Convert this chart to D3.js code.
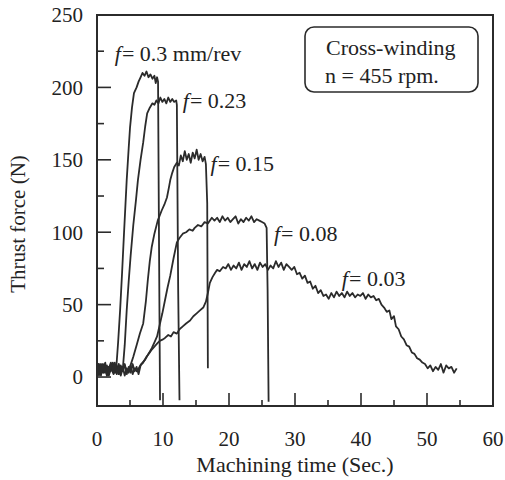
<!DOCTYPE html>
<html>
<head>
<meta charset="utf-8">
<script src="https://cdn.jsdelivr.net/npm/d3@7"></script>
<style>
  body { margin: 0; background: #fff; }
  text { font-family: "Liberation Serif", "DejaVu Serif", serif; fill: #222; }
</style>
</head>
<body>
<div id="chart"></div>
<script>
// Thrust force traces (time in s, force in N)
const f030 = [[0,5],[0.25,9],[0.5,2],[0.75,8],[1,3],[1.25,10],[1.5,1],[1.75,7],[2,4],[2.25,9],[2.5,2],[2.75,6],[2.9,5],
    [3.2,24],[3.5,46],[3.8,72],[4.1,100],[4.5,136],[4.8,158],[5.0,172],[5.3,186],[5.6,196],[6.0,200],[6.3,204],[6.6,207],
    [6.9,210],[7.2,208],[7.5,211],[7.8,207],[8.1,209],[8.4,206],[8.7,208],[8.9,203],[9.1,207],[9.25,204],[9.4,90],[9.55,-16]];

const f023 = [[0,6],[0.3,1],[0.6,8],[0.9,3],[1.2,9],[1.5,2],[1.8,7],[2.1,4],[2.4,10],[2.7,3],[3.0,8],[3.3,2],[3.6,6],[3.9,5],
    [4.2,22],[4.5,46],[4.8,66],[5.1,84],[5.5,105],[5.9,122],[6.2,136],[6.6,150],[7.0,162],[7.3,173],[7.6,182],[8.0,186],
    [8.4,189],[8.7,188],[9.0,191],[9.3,189],[9.6,193],[9.9,190],[10.2,192],[10.5,189],[10.8,193],[11.1,190],[11.4,192],
    [11.7,190],[12.0,191],[12.1,188],[12.3,60],[12.5,-16]];

const f015 = [[0,4],[0.3,9],[0.6,2],[0.9,7],[1.2,3],[1.5,8],[1.8,1],[2.1,6],[2.4,9],[2.7,3],[3.0,7],[3.3,2],[3.6,8],[3.9,4],
    [4.2,9],[4.5,3],[4.8,6],[5.0,7],[5.5,14],[6.0,22],[6.5,30],[7.0,37],[7.4,52],[7.7,67],[8.0,80],[8.3,90],[8.7,99],
    [9.2,108],[9.8,115],[10.2,119],[10.6,124],[10.9,131],[11.1,136],[11.4,141],[11.7,145],[12.1,148],[12.4,146],[12.7,153],
    [13.0,149],[13.3,156],[13.6,150],[13.9,154],[14.2,148],[14.5,155],[14.8,151],[15.1,157],[15.4,150],[15.7,154],
    [16.0,149],[16.3,152],[16.5,147],[16.7,120],[16.8,6]];

const f008 = [[0,7],[0.3,2],[0.6,9],[0.9,4],[1.2,8],[1.5,1],[1.8,6],[2.1,10],[2.4,3],[2.7,7],[3.0,2],[3.3,9],[3.6,4],[3.9,7],
    [4.2,1],[4.5,6],[4.8,3],[5.1,8],[5.4,2],[5.7,6],[6.0,4],[6.2,5],[6.7,9],[7.3,12],[7.8,16],[8.3,20],[8.7,24],[9.1,28],
    [9.5,36],[9.9,44],[10.3,53],[10.7,62],[11.1,70],[11.6,82],[12.1,93],[12.5,96],[13.0,99],[13.5,100],[14.0,102],[14.5,101],
    [14.8,103],[15.3,105],[15.8,104],[16.3,107],[16.8,106],[17.4,110],[17.8,108],[18.2,110],[18.6,107],[19.0,111],[19.4,108],
    [19.8,110],[20.2,107],[20.6,109],[21.0,111],[21.4,106],[21.8,109],[22.2,107],[22.6,110],[23.0,108],[23.4,111],[23.8,107],
    [24.2,109],[24.6,108],[25.0,107],[25.4,106],[25.7,103],[25.85,60],[26.0,-17]];

const f003 = [[0,3],[0.3,8],[0.6,1],[0.9,9],[1.2,4],[1.5,7],[1.8,2],[2.1,8],[2.4,5],[2.7,10],[3.0,3],[3.3,7],[3.6,1],[3.9,6],
    [4.2,8],[4.5,2],[4.8,7],[5.1,3],[5.4,9],[5.7,4],[6.0,7],[6.3,2],[6.6,8],[7.0,10],[7.5,14],[8.0,17],[8.3,19],[8.7,21],
    [9.1,23],[9.5,25],[10.0,26],[10.3,27],[10.8,29],[11.2,28],[11.6,31],[12.1,30],[12.5,33],[13.0,35],[13.5,37],[14.1,39],
    [14.6,42],[15.1,44],[15.6,46],[16.1,48],[16.5,52],[16.8,58],[17.1,65],[17.5,69],[17.9,72],[18.2,74],[18.6,73],[19.1,76],
    [19.5,75],[19.9,78],[20.3,74],[20.7,77],[21.1,75],[21.5,79],[21.9,74],[22.3,78],[22.7,76],[23.1,80],[23.5,75],[23.9,78],
    [24.3,74],[24.7,79],[25.1,76],[25.5,78],[25.9,74],[26.3,77],[26.7,75],[27.1,80],[27.5,76],[27.9,79],[28.3,74],[28.7,78],
    [29.1,76],[29.5,74],[29.9,76],[30.3,71],[30.7,72],[31.1,68],[31.5,70],[31.9,65],[32.3,66],[32.7,61],[33.1,63],[33.5,58],
    [33.9,60],[34.3,56],[34.7,57],[35.1,54],[35.5,58],[35.9,55],[36.3,59],[36.7,56],[37.1,58],[37.5,55],[37.9,59],[38.3,56],
    [38.7,58],[39.1,55],[39.5,57],[39.9,56],[40.3,58],[40.7,54],[41.1,57],[41.5,55],[41.9,56],[42.3,53],[42.7,54],[43.1,50],
    [43.5,48],[43.9,45],[44.3,46],[44.6,40],[45.0,42],[45.3,35],[45.7,33],[46.1,28],[46.5,26],[46.9,22],[47.3,21],[47.7,17],
    [48.1,16],[48.5,13],[48.9,12],[49.3,10],[49.7,9],[50.1,6],[50.5,8],[50.9,4],[51.3,7],[51.7,5],[52.1,9],[52.5,3],[52.9,8],
    [53.3,6],[53.7,7],[54.1,3],[54.5,6]];

const xTicks = [0, 10, 20, 30, 40, 50, 60];
const yTicks = [0, 50, 100, 150, 200, 250];

// curve labels: feed value, and where the label sits (time, force)
const labelText = ["= 0.3 mm/rev", "= 0.23", "= 0.15", "= 0.08", "= 0.03"];
const labelAt = [[2.7, 218], [13.0, 186], [17.2, 142], [26.8, 94], [37.1, 63]];

const width = 505, height = 480;
const margin = {left: 97, right: 12, top: 15, bottom: 74};

const x = d3.scaleLinear().domain([0, 60]).range([margin.left, width - margin.right]);
const y = d3.scaleLinear().domain([-20, 250]).range([height - margin.bottom, margin.top]);

const svg = d3.select("#chart").append("svg")
    .attr("width", width)
    .attr("height", height);

const ink = "#2b2b2b";

// curves
const line = d3.line().x(d => x(d[0])).y(d => y(d[1]));
[f030, f023, f015, f008, f003].forEach(series => {
    svg.append("path")
        .datum(series)
        .attr("d", line)
        .style("fill", "none")
        .style("stroke", ink)
        .style("stroke-width", 1.8)
        .style("stroke-linejoin", "round");
});

// frame
svg.append("rect")
    .attr("x", x(0)).attr("y", y(250))
    .attr("width", x(60) - x(0)).attr("height", y(-20) - y(250))
    .style("fill", "none").style("stroke", ink).style("stroke-width", 2);

// inward ticks on the bottom and left
const xMinor = d3.range(5, 60, 10);
const yMinor = d3.range(25, 250, 50);
svg.append("g").selectAll("line")
    .data(xTicks.slice(1, -1).map(v => [v, 13]).concat(xMinor.map(v => [v, 6])))
    .enter().append("line")
    .attr("x1", d => x(d[0])).attr("x2", d => x(d[0]))
    .attr("y1", y(-20)).attr("y2", d => y(-20) - d[1])
    .style("stroke", ink).style("stroke-width", 1.6);

svg.append("g").selectAll("line")
    .data(yTicks.slice(0, -1).map(v => [v, 14]).concat(yMinor.map(v => [v, 7])))
    .enter().append("line")
    .attr("x1", x(0)).attr("x2", d => x(0) + d[1])
    .attr("y1", d => y(d[0])).attr("y2", d => y(d[0]))
    .style("stroke", ink).style("stroke-width", 1.6);

// tick labels
svg.append("g").selectAll("text")
    .data(xTicks)
    .enter().append("text")
    .attr("x", d => x(d))
    .attr("y", 446)
    .attr("text-anchor", "middle")
    .style("font-size", "21px")
    .text(d => d);

svg.append("g").selectAll("text")
    .data(yTicks)
    .enter().append("text")
    .attr("x", 83)
    .attr("y", d => y(d))
    .attr("dy", "0.35em")
    .attr("text-anchor", "end")
    .style("font-size", "21px")
    .text(d => d);

// axis titles
svg.append("text")
    .attr("x", x(30))
    .attr("y", 472)
    .attr("text-anchor", "middle")
    .style("font-size", "22px")
    .text("Machining time (Sec.)");

svg.append("text")
    .attr("transform", "translate(25,224) rotate(-90)")
    .attr("text-anchor", "middle")
    .style("font-size", "21px")
    .text("Thrust force (N)");

// curve labels
labelText.forEach((t, i) => {
    const lab = svg.append("text")
        .attr("x", x(labelAt[i][0]))
        .attr("y", y(labelAt[i][1]))
        .style("font-size", "22px");
    lab.append("tspan").style("font-style", "italic").text("f");
    lab.append("tspan").attr("dx", 1).text(t);
});

// condition box
svg.append("rect")
    .attr("x", 305).attr("y", 27)
    .attr("width", 173).attr("height", 65)
    .attr("rx", 9)
    .style("fill", "#fff").style("stroke", ink).style("stroke-width", 1.6);

svg.append("text").attr("x", 326).attr("y", 55)
    .style("font-size", "22px").text("Cross-winding");
svg.append("text").attr("x", 325).attr("y", 83)
    .style("font-size", "22px").text("n = 455 rpm.");
</script>
</body>
</html>
